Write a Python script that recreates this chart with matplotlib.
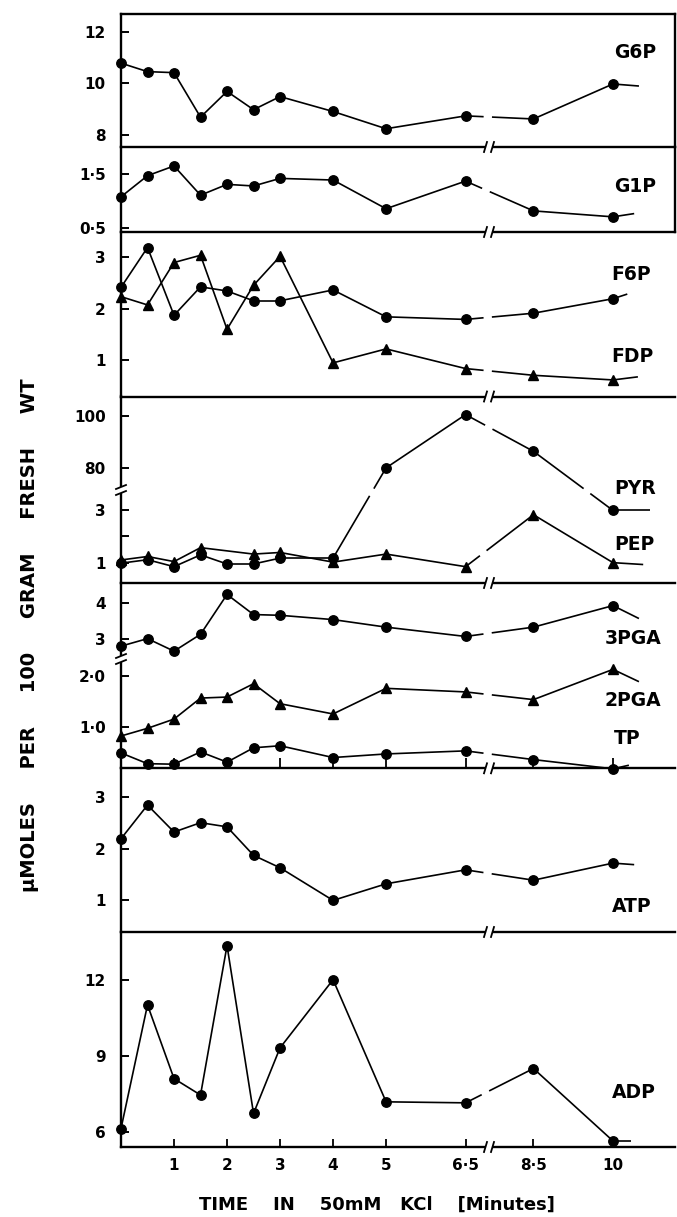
import numpy as np
import matplotlib
matplotlib.use('Agg')
import matplotlib.pyplot as plt

plt.rcParams['font.family'] = ['DejaVu Sans']
plt.rcParams['font.weight'] = 'bold'
plt.rcParams['lines.scale_dashes'] = False

# sampling times (minutes in 50mM KCl)
times = [0, 0.5, 1, 1.5, 2, 2.5, 3, 4, 5, 6.5, 8.5, 10]
pep_times = [0, 0.5, 1, 1.5, 2.5, 3, 4, 5, 6.5, 8.5, 10]

g6p = [10.79, 10.46, 10.42, 8.69, 9.69, 8.98, 9.49, 8.91, 8.24, 8.74, 8.62, 9.98]
g1p = [1.08, 1.47, 1.65, 1.11, 1.31, 1.28, 1.42, 1.39, 0.86, 1.37, 0.82, 0.71]
f6p = [2.41, 3.18, 1.87, 2.42, 2.34, 2.15, 2.15, 2.36, 1.84, 1.79, 1.91, 2.19]
fdp = [2.23, 2.07, 2.89, 3.03, 1.60, 2.45, 3.01, 0.95, 1.22, 0.84, 0.71, 0.62]
pyr = [1.00, 1.13, 0.87, 1.31, 0.97, 0.97, 1.19, 1.19, 80.0, 100.6, 86.4, 2.97]
pep = [1.12, 1.25, 1.06, 1.58, 1.34, 1.40, 1.04, 1.34, 0.87, 2.81, 1.02]
pga3 = [2.79, 3.00, 2.65, 3.12, 4.23, 3.67, 3.65, 3.53, 3.32, 3.06, 3.32, 3.92]
pga2 = [0.82, 0.97, 1.15, 1.56, 1.58, 1.84, 1.45, 1.25, 1.75, 1.68, 1.53, 2.12]
tp = [0.49, 0.28, 0.27, 0.51, 0.31, 0.59, 0.63, 0.40, 0.47, 0.53, 0.36, 0.18]
atp = [2.19, 2.84, 2.32, 2.50, 2.42, 1.87, 1.63, 1.00, 1.32, 1.59, 1.39, 1.72]
adp = [6.13, 11.03, 8.11, 7.46, 13.38, 6.73, 9.33, 12.03, 7.19, 7.15, 8.51, 5.64]

# end strokes drawn past the last point (time, value)
tails = {
    'G6P': (10.49, 9.90), 'G1P': (10.40, 0.77), 'F6P': (10.27, 2.28),
    'FDP': (10.47, 0.68), 'PYR': (10.70, 2.97), 'PEP': (10.57, 0.95),
    '3PGA': (10.49, 3.56), '2PGA': (10.49, 1.88), 'TP': (10.30, 0.25),
    'ATP': (10.40, 1.69), 'ADP': (10.34, 5.64),
}

x_ticks = [1, 2, 3, 4, 5, 6.5, 8.5, 10]
x_ticklabels = ['1', '2', '3', '4', '5', '6·5', '8·5', '10']

W, H = 677, 1217
fig = plt.figure(figsize=(W / 100, H / 100), dpi=100)

# broken time axis: 6.5 -> 8.5 is squeezed
tk = [-5, 6.5, 8.5, 20]
tp_ = [-5, 6.5, 7.78, 19.28]
def xfwd(t):
    return np.interp(t, tk, tp_)
def xinv(p):
    return np.interp(p, tp_, tk)

# broken value axes
pyr_k = [-10, 3, 80, 200]
pyr_p = [-10, 3, 4.56, 16.15]
pga_k = [-10, 2.2, 2.6, 10]
pga_p = [-10, 2.2, 2.44, 7.62]

bounds = [14, 147, 232, 396.5, 583, 768.3, 932, 1147]
XL, XR = 121, 675
axes = []
for i in range(7):
    top, bot = bounds[i], bounds[i + 1]
    ax = fig.add_axes([XL / W, 1 - bot / H, (XR - XL) / W, (bot - top) / H])
    ax.set_facecolor('none')
    ax.set_xscale('function', functions=(xfwd, xinv))
    ax.set_xlim(0, 11.17)
    for s in ax.spines.values():
        s.set_linewidth(1.7)
    ax.spines['top'].set_visible(i == 0)
    ax.spines['right'].set_visible(i <= 1)
    ax.tick_params(axis='y', direction='in', length=5.5, width=1.4, pad=11, labelsize=11)
    ax.tick_params(axis='x', direction='in', length=0, labelbottom=False)
    axes.append(ax)

ax1, ax2, ax3, ax4, ax5, ax6, ax7 = axes
ax4.set_yscale('function', functions=(lambda y: np.interp(y, pyr_k, pyr_p),
                                      lambda p: np.interp(p, pyr_p, pyr_k)))
ax5.set_yscale('function', functions=(lambda y: np.interp(y, pga_k, pga_p),
                                      lambda p: np.interp(p, pga_p, pga_k)))

ax1.set_ylim(7.53, 12.70)
ax1.set_yticks([8, 10, 12], ['8', '10', '12'])
ax2.set_ylim(0.43, 2.0)
ax2.set_yticks([0.5, 1.5], ['0·5', '1·5'])
ax3.set_ylim(0.30, 3.48)
ax3.set_yticks([1, 2, 3], ['1', '2', '3'])
ax4.set_ylim(0.26, 107.6)
ax4.set_yticks([1, 2, 3, 80, 100], ['1', '', '3', '80', '100'])
ax5.set_ylim(0.19, 4.55)
ax5.set_yticks([1, 2, 3, 4], ['1·0', '2·0', '3', '4'])
ax6.set_ylim(0.39, 3.55)
ax6.set_yticks([1, 2, 3], ['1', '2', '3'])
ax7.set_ylim(5.40, 13.92)
ax7.set_yticks([6, 9, 12], ['6', '9', '12'])

ax5.set_xticks(x_ticks)
ax5.tick_params(axis='x', direction='in', length=7.5, width=1.3)
ax7.set_xticks(x_ticks, x_ticklabels)
ax7.tick_params(axis='x', direction='in', length=5.5, width=1.3,
                labelbottom=True, pad=8, labelsize=11)


def series(ax, t, v, name, marker='o', ms=6.8, breaks=None):
    breaks = breaks or {6.5: 13}
    tt = list(t) + [tails[name][0]]
    vv = list(v) + [tails[name][1]]
    for i in range(len(tt) - 1):
        ls = '-'
        if tt[i] in breaks:
            ls = (0, (breaks[tt[i]], 6, 400, 1))
        ax.plot(tt[i:i + 2], vv[i:i + 2], color='black', lw=1.2, ls=ls,
                clip_on=False, zorder=3, solid_capstyle='butt', dash_capstyle='butt')
    ax.plot(t, v, ls='none', marker=marker, ms=ms, color='black',
            clip_on=False, zorder=4)


series(ax1, times, g6p, 'G6P')
series(ax2, times, g1p, 'G1P')
series(ax3, times, f6p, 'F6P')
series(ax3, times, fdp, 'FDP', marker='^', ms=6.5)
series(ax4, times, pyr, 'PYR', breaks={4: 52, 6.5: 16, 8.5: 45})
series(ax4, pep_times, pep, 'PEP', marker='^', ms=6.5)
series(ax5, times, pga3, '3PGA')
series(ax5, times, pga2, '2PGA', marker='^', ms=6.5)
series(ax5, times, tp, 'TP')
series(ax6, times, atp, 'ATP')
series(ax7, times, adp, 'ADP')


def figtext(x, y, s, **kw):
    fig.text(x / W, 1 - y / H, s, va='center', **kw)

lab = dict(fontsize=13.5, ha='left')
figtext(614, 52, 'G6P', **lab)
figtext(614, 187, 'G1P', **lab)
figtext(611, 275, 'F6P', **lab)
figtext(611, 357, 'FDP', **lab)
figtext(614, 488, 'PYR', **lab)
figtext(614, 545, 'PEP', **lab)
figtext(605, 639, '3PGA', **lab)
figtext(605, 701, '2PGA', **lab)
figtext(614, 738, 'TP', **lab)
figtext(612, 907, 'ATP', **lab)
figtext(612, 1092, 'ADP', **lab)

figtext(377, 1205, 'TIME    IN    50mM   KCl    [Minutes]', fontsize=13, ha='center')
fig.text(30 / W, 1 - 635 / H, 'μMOLES     PER     100     GRAM     FRESH     WT',
         rotation=90, fontsize=14, ha='center', va='center')


# break marks on the separators and on the left axis
XB = (489 - XL) / (XR - XL)
def xbreak(ax):
    bb = ax.get_position()
    w, h = bb.width * W, bb.height * H
    g = 3.5 / w
    ax.plot([XB - g, XB + g], [0, 0], color='white', lw=3, transform=ax.transAxes,
            clip_on=False, zorder=6, solid_capstyle='butt')
    for d in (-g, g):
        ax.plot([XB + d - 1.5 / w, XB + d + 1.5 / w], [-5 / h, 5 / h], color='black',
                lw=1.3, transform=ax.transAxes, clip_on=False, zorder=7)

for ax in axes:
    xbreak(ax)


def ybreak(ax, ypix):
    bb = ax.get_position()
    w, h = bb.width * W, bb.height * H
    yb = (1 - ypix / H - bb.y0) / bb.height
    g = 3 / h
    ax.plot([0, 0], [yb - g, yb + g], color='white', lw=3, transform=ax.transAxes,
            clip_on=False, zorder=6, solid_capstyle='butt')
    for d in (-g, g):
        ax.plot([-5 / w, 5 / w], [yb + d - 2 / h, yb + d + 2 / h], color='black',
                lw=1.3, transform=ax.transAxes, clip_on=False, zorder=7)

ybreak(ax4, 490)
ybreak(ax5, 659)

fig.savefig('out.png', dpi=100)
